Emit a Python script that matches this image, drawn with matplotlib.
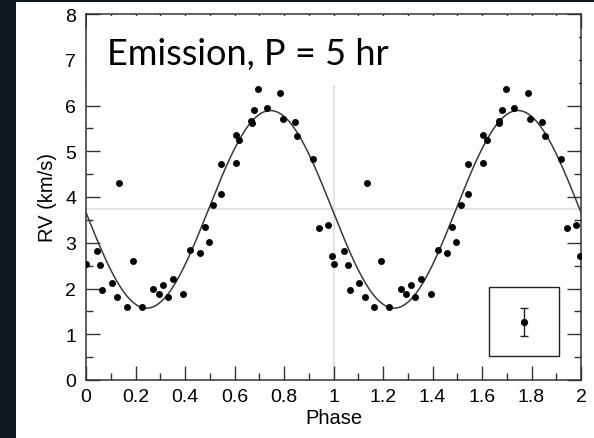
import numpy as np
import matplotlib
matplotlib.use("Agg")
import matplotlib.pyplot as plt
from matplotlib.patches import Rectangle

# ---- data (one orbital cycle, phase 0-1; plotted twice) ----
phase = [0.002, 0.043, 0.057, 0.066, 0.104, 0.127, 0.135, 0.164, 0.190, 0.225,
         0.272, 0.294, 0.312, 0.330, 0.352, 0.392, 0.421, 0.459, 0.480, 0.495,
         0.515, 0.545, 0.544, 0.605, 0.605, 0.619, 0.667, 0.669, 0.680, 0.696,
         0.730, 0.784, 0.794, 0.843, 0.854, 0.918, 0.942, 0.978, 0.995]
rv = [2.54, 2.81, 2.51, 1.97, 2.11, 1.81, 4.31, 1.60, 2.61, 1.60,
      1.98, 1.87, 2.07, 1.81, 2.21, 1.89, 2.85, 2.77, 3.34, 3.01,
      3.83, 4.07, 4.72, 4.74, 5.35, 5.24, 5.66, 5.61, 5.90, 6.37,
      5.95, 6.27, 5.70, 5.64, 5.34, 4.82, 3.32, 3.39, 2.72]

# sinusoidal model fit parameters
gamma = 3.73      # systemic velocity (km/s)
K = 2.16          # semi-amplitude (km/s)
phase_min = 0.245 # phase of minimum

# typical error bar (inset)
err_x = 1.77
err_y = 1.27
err = 0.30

xticks = [0, 0.2, 0.4, 0.6, 0.8, 1, 1.2, 1.4, 1.6, 1.8, 2]
xticklabels = ["0", "0.2", "0.4", "0.6", "0.8", "1", "1.2", "1.4", "1.6", "1.8", "2"]
yticks = [0, 1, 2, 3, 4, 5, 6, 7, 8]

W, H = 594, 439
fig = plt.figure(figsize=(W / 100, H / 100), dpi=100)
fig.patch.set_facecolor("white")

# dark background strips (slide background)
fig.patches.append(Rectangle((0, 0), 16 / W, 1, transform=fig.transFigure,
                             facecolor="#0e1822", edgecolor="none", zorder=0))
fig.patches.append(Rectangle((0, 1 - 3 / H), 1, 3 / H, transform=fig.transFigure,
                             facecolor="#0e1822", edgecolor="none", zorder=0))

ax = fig.add_axes([86 / W, 58 / H, 495 / W, 366 / H])
ax.set_xlim(0, 2)
ax.set_ylim(0, 8)

# reference lines
ax.axhline(gamma, color="#e4e4e4", lw=1.5, zorder=1)
ax.axvline(1.0, color="#e4e4e4", lw=1.5, zorder=1)

# model curve
xm = np.linspace(0, 2, 800)
ym = gamma - K * np.cos(2 * np.pi * (xm - phase_min))
ax.plot(xm, ym, color="#3a3a3a", lw=1.1, zorder=2)

# data points (two cycles)
ph = np.array(phase)
ax.plot(np.concatenate([ph, ph + 1]), np.concatenate([rv, rv]), "o",
        color="black", ms=5.0, mew=0, zorder=3, clip_on=True)

# inset error bar box
ax.add_patch(Rectangle((1.628, 0.52), 0.283, 1.51, facecolor="white",
                       edgecolor="#222222", lw=1.0, zorder=2))
ax.errorbar([err_x], [err_y], yerr=[err], fmt="o", color="black", ms=4.2,
            ecolor="#222222", elinewidth=1.0, capsize=3.2, capthick=1.0,
            zorder=4)

# axes styling
for s in ax.spines.values():
    s.set_color("#333333")
    s.set_linewidth(1.1)
ax.set_xticks(xticks)
ax.set_xticklabels(xticklabels)
ax.set_yticks(yticks)
ax.set_xticks(np.arange(0, 2.01, 0.1), minor=True)
ax.set_yticks(np.arange(0, 8.01, 0.5), minor=True)
ax.tick_params(which="both", direction="in", top=True, right=True,
               color="#333333", width=1.0, labelsize=14,
               labelfontfamily="Liberation Sans")
ax.tick_params(axis="x", which="major", pad=6)
ax.tick_params(axis="y", which="major", pad=7)
ax.tick_params(which="major", length=10)
ax.tick_params(which="minor", length=5)
ax.set_xlabel("Phase", fontsize=14.5, family="Liberation Sans", labelpad=2)
ax.set_ylabel("RV (km/s)", fontsize=14.5, family="Liberation Sans", labelpad=6)

# white title box covering the top of the plot
fig.patches.append(Rectangle((87 / W, 1 - 86 / H), (579 - 87) / W, (86 - 17) / H,
                             transform=fig.transFigure, facecolor="white",
                             edgecolor="none", zorder=5))
fig.text(107 / W, 1 - 65 / H, "Emission, P = 5 hr", fontsize=26,
         family="Lato", va="baseline", ha="left", color="black", zorder=6)

fig.savefig("out.png", dpi=100)
